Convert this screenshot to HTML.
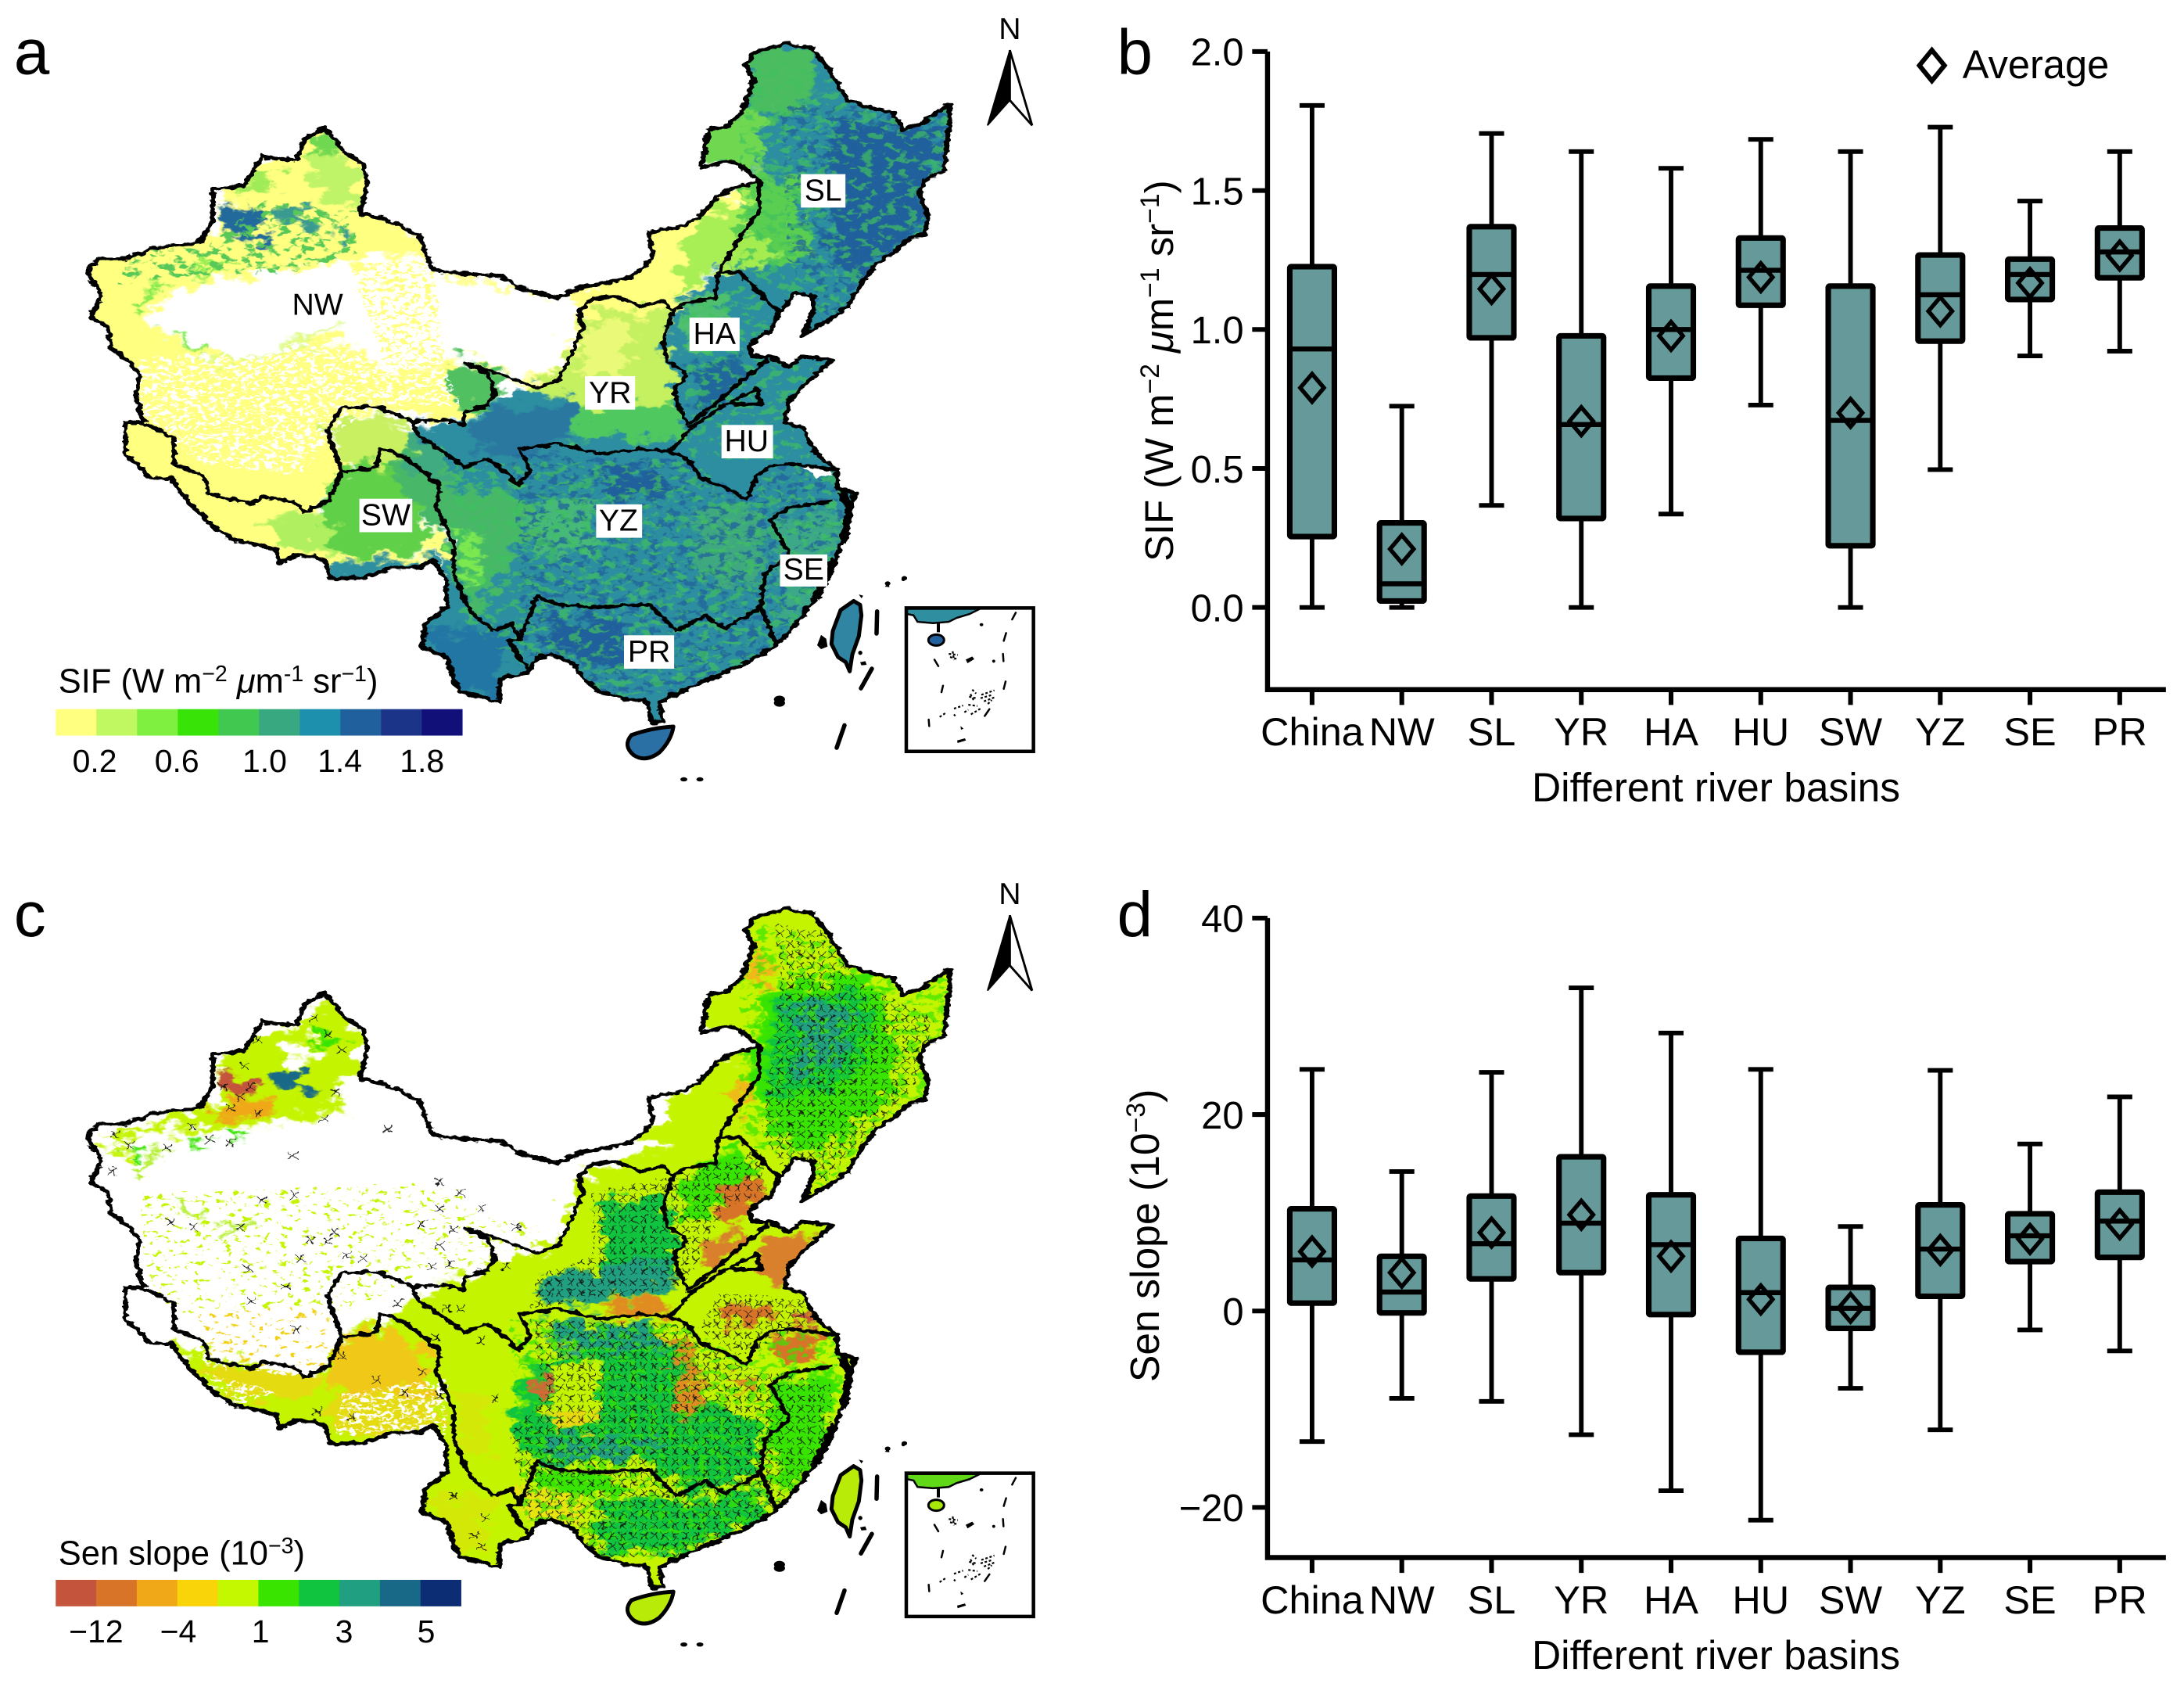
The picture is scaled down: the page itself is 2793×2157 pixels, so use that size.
<!DOCTYPE html>
<html lang="en">
<head>
<meta charset="utf-8">
<title>SIF and Sen slope across river basins of China</title>
<style>
html,body{margin:0;padding:0;background:#fff;}
svg{display:block;width:2793px;height:2157px;}
text{font-family:"Liberation Sans",Arial,sans-serif;fill:#000;}
.nss{vector-effect:non-scaling-stroke;}
.lbl{font-size:22px;text-anchor:middle;}
</style>
</head>
<body>
<svg id="figure" xmlns="http://www.w3.org/2000/svg" viewBox="0 0 1568 1210.9" preserveAspectRatio="none">
<defs>
  <path id="china-path" d="M463 242L478 262L495 290L520 310L527 350L515 405L545 412L570 425L600 445L610 480L622 512L680 520L720 523L745 545L790 562L800 565L830 545L870 535L905 525L935 490L930 440L975 430L1005 408L1030 370L1060 352L1088 345L1060 310L1040 305L1005 318L1015 245L1040 240L1062 215L1072 180L1080 150L1068 125L1080 100L1125 82L1165 92L1185 125L1215 190L1250 205L1280 215L1295 245L1320 235L1345 210L1362 198L1358 260L1352 325L1325 340L1318 370L1330 410L1325 445L1305 450L1280 480L1255 500L1235 535L1215 580L1190 605L1150 635L1165 590L1165 560L1140 555L1118 590L1105 625L1075 650L1078 675L1105 675L1130 695L1150 675L1192 682L1165 715L1130 760L1125 800L1150 810L1170 860L1200 890L1200 925L1225 935L1215 980L1205 1030L1190 1090L1170 1130L1145 1175L1115 1220L1070 1255L1030 1280L1000 1295L960 1320L945 1330L950 1365L935 1370L925 1325L900 1325L860 1310L840 1290L820 1255L790 1240L770 1245L755 1275L715 1285L715 1330L690 1320L660 1310L650 1285L640 1245L605 1225L610 1180L640 1150L640 1100L620 1060L600 1075L560 1075L520 1095L475 1095L465 1060L430 1050L400 1065L395 1040L360 1030L330 1020L300 990L270 950L245 905L215 905L180 860L180 800L205 800L195 750L200 710L185 685L160 660L155 620L130 600L145 560L125 515L140 490L180 490L220 470L285 460L305 420L305 360L350 350L375 295L425 305L435 265Z"/>
  <path id="basin-path" d="M180 800L205 800L250 830L250 880L290 900L300 935L360 955L375 940L420 950L435 970L470 950L490 895L540 885L545 850L560 855L585 870L630 920L625 960L650 1030L650 1090L675 1160L710 1195L735 1180L745 1210L770 1130L800 1145L850 1150L930 1145L970 1195L1010 1165L1040 1190L1090 1150L1112 1218M730 1215L745 1210M730 1215L755 1265M490 895L468 815L490 772L540 770L590 798L600 825L640 860L665 885L700 870L730 900L740 920L760 890L745 850L800 840L860 860L920 850L960 855L985 870L1005 905L1040 925L1070 945L1085 900L1110 880L1150 880L1195 890M590 798L640 795L665 805L665 780L695 770L710 745L700 710L668 688L720 710L770 735L800 720L820 670L835 620L830 590L850 565L880 560L920 580L950 570L965 590L950 640L955 680L985 710L965 740L985 805L1020 770L1100 680M965 590L980 575L1025 565L1030 515L1060 515L1085 550L1115 590L1105 625M1030 515L1060 450L1088 400L1088 345M960 855L990 810L1040 765L1090 765L1085 735L1050 760M1105 985L1130 960L1190 950M1105 985L1130 1050L1095 1090L1090 1150"/>
  <clipPath id="china-clip"><use href="#china-path"/></clipPath>
  <filter id="organic" x="-5%" y="-5%" width="110%" height="110%" color-interpolation-filters="sRGB">
    <feGaussianBlur in="SourceGraphic" stdDeviation="2.5 3" result="b"/>
    <feTurbulence type="fractalNoise" baseFrequency="0.03 0.04" numOctaves="4" seed="7" result="n"/>
    <feDisplacementMap in="b" in2="n" scale="70" xChannelSelector="R" yChannelSelector="G"/>
  </filter>
  <filter id="rough" x="-3%" y="-3%" width="106%" height="106%" color-interpolation-filters="sRGB">
    <feTurbulence type="fractalNoise" baseFrequency="0.09 0.11" numOctaves="2" seed="3" result="n"/>
    <feDisplacementMap in="SourceGraphic" in2="n" scale="11" xChannelSelector="R" yChannelSelector="G"/>
  </filter>
  <filter id="mottle-fine" x="0" y="0" width="100%" height="100%" color-interpolation-filters="sRGB">
    <feTurbulence type="fractalNoise" baseFrequency="0.07 0.09" numOctaves="3" seed="4"/>
    <feColorMatrix values="0 0 0 0 0 0 0 0 0 0 0 0 0 0 0 9 0 0 0 -4.7"/>
    <feComposite in="SourceGraphic" operator="in"/>
  </filter>
  <filter id="mottle-green" x="0" y="0" width="100%" height="100%" color-interpolation-filters="sRGB">
    <feTurbulence type="fractalNoise" baseFrequency="0.06 0.08" numOctaves="3" seed="21"/>
    <feColorMatrix values="0 0 0 0 0 0 0 0 0 0 0 0 0 0 0 9 0 0 0 -4.8"/>
    <feComposite in="SourceGraphic" operator="in"/>
  </filter>
  <filter id="mottle-speck" x="0" y="0" width="100%" height="100%" color-interpolation-filters="sRGB">
    <feTurbulence type="fractalNoise" baseFrequency="0.11 0.15" numOctaves="3" seed="9"/>
    <feColorMatrix values="0 0 0 0 0 0 0 0 0 0 0 0 0 0 0 11 0 0 0 -5.6"/>
    <feComposite in="SourceGraphic" operator="in"/>
  </filter>
  <filter id="mottle-sparse" x="0" y="0" width="100%" height="100%" color-interpolation-filters="sRGB">
    <feTurbulence type="fractalNoise" baseFrequency="0.09 0.12" numOctaves="3" seed="15"/>
    <feColorMatrix values="0 0 0 0 0 0 0 0 0 0 0 0 0 0 0 12 0 0 0 -7.6"/>
    <feComposite in="SourceGraphic" operator="in"/>
  </filter>
  <pattern id="x-hatch" width="15" height="20" patternUnits="userSpaceOnUse">
    <path d="M2.5 3L12.5 17M12.5 3L2.5 17" stroke="#111" stroke-width="1.15" fill="none"/>
  </pattern>
  <g id="map-lines">
    <use href="#china-path" class="nss" fill="none" stroke="#000" stroke-width="7" stroke-linejoin="round"/>
    <use href="#basin-path" class="nss" fill="none" stroke="#000" stroke-width="6.5" stroke-linejoin="round" stroke-linecap="round"/>
    <path class="nss" d="M1205 930L1218 960L1208 1030M1195 1060L1182 1100L1168 1135" fill="none" stroke="#000" stroke-width="10" stroke-linejoin="round"/>
  </g>
  <g id="map-dots">
    <path d="M1110 1328a8 7 0 1 0 14 0a8 7 0 1 0-14 0M975 1476a5 4 0 1 0 10 0a5 4 0 1 0-10 0M998 1476a5 4 0 1 0 10 0a5 4 0 1 0-10 0M1268 1105a4 4 0 1 0 8 0a4 4 0 1 0-8 0M1292 1095a4 4 0 1 0 8 0a4 4 0 1 0-8 0" fill="#000"/>
  </g>
  <g id="island-lines">
    <path class="nss" d="M365 245L363 330M345 465L303 540M240 682L210 768" stroke="#000" stroke-width="5.5" stroke-linecap="round" fill="none"/>
    <path d="M135 375L150 335L170 350L175 380L150 390ZM300 396a8 8 0 1 0 1 0ZM300 440L320 436L325 450L305 452ZM295 180L312 185L305 195ZM395 150L410 130L412 152ZM465 115a7 7 0 1 0 1 0ZM705 430l25-12l8 10l-26 16ZM812 430a6 6 0 1 0 1 0ZM765 290a7 6 0 1 0 1 0ZM672 740l30-8l4 8l-32 10ZM685 685l12 10l-10 4Z" fill="#000"/>
    <rect class="nss" x="477" y="232" width="488" height="550" fill="none" stroke="#000" stroke-width="4.5"/>
    <path class="nss" d="M640 408L675 412M645 420L672 428M655 398L660 432M730 545L745 560M718 572L745 578M735 585L722 560M765 565L815 548M762 578L808 565M775 590L815 575M790 600L805 585M660 618L695 606M715 603L750 608M700 632L715 622M725 640L765 616M605 650L632 632M660 640L665 646" stroke="#000" stroke-width="2.2" stroke-dasharray="3 2.5" fill="none"/>
    <path class="nss" d="M585 430L600 455M618 530L612 555M563 660L565 685M860 328L851 358M848 408L850 436M858 514L851 542M897 250L883 276M796 620L778 646" stroke="#000" stroke-width="2.5" stroke-linecap="round" fill="none"/>
  </g>
</defs>

<rect width="1568" height="1211" fill="#fff"/>

<!-- PANEL A -->
<text x="10" y="53" font-size="46">a</text>
<g transform="scale(.501 .379)">
<g filter="url(#rough)">
  <g clip-path="url(#china-clip)">
    <use href="#china-path" fill="#fff"/>
    <g filter="url(#organic)">
      <path fill="#2c8ea0" d="M1000 40H1440V1540H560L570 1180L640 1100L620 1050L640 1000L620 920L600 860L590 810L660 800L700 770L760 735L810 720L850 600L960 590L1030 520L1060 440L1090 340L1000 320Z"/>
      <path fill="#ffff80" d="M80 450L300 440L340 320L463 210L550 310L540 410L630 470L640 510L800 555L900 520L925 480L920 430L1090 335L1060 450L1030 510L965 590L835 600L820 670L770 730L670 690L690 770L640 800L540 770L480 790L470 830L500 890L440 970L520 1040L610 1050L640 1090L560 1090L520 1120L460 1120L280 1020L150 880L80 600Z"/>
      <path fill="#48b868" d="M530 850L640 840L660 1000L620 1000Z"/>
      <path fill="#48b868" d="M625 920L740 930L765 1000L720 1080L680 1170L650 1080Z"/>
      <path fill="#7ce850" d="M650 1010L695 1030L690 1080L670 1120Z"/>
      <path fill="#ffff80" d="M610 990L640 1020L650 1060L610 1050Z"/>
      <path fill="#46b878" d="M760 950L840 940L850 1040L770 1060Z"/>
      <path fill="#20609c" d="M860 880L950 890L950 950L880 950ZM780 1170L890 1170L900 1260L800 1240Z"/>
      <path fill="#3fa880" d="M1000 960L1090 960L1090 1110L1000 1100Z"/>
      <path fill="#4cbc60" d="M1065 90L1175 90L1160 210L1075 230Z"/>
      <path fill="#5ace50" d="M1060 340L1150 340L1170 490L1050 510Z"/>
      <path fill="#a4ec50" d="M1050 450L1110 470L1100 500L1040 510Z"/>
      <path fill="#20609c" d="M1190 230L1350 240L1340 340L1310 450L1230 530L1190 500Z"/>
      <path fill="#70d850" d="M995 230L1090 210L1090 340L1040 310L995 330Z"/>
      <path fill="#50c070" d="M975 575L1040 560L1040 640L985 660Z"/>
      <path fill="#20689c" d="M1000 690L1070 680L1050 770L1000 790Z"/>
      <path fill="#c5f060" d="M840 590L960 590L960 700L975 780L840 780L770 730L820 670Z"/>
      <path fill="#eafa78" d="M840 610L900 610L890 730L830 700Z"/>
      <path fill="#50c860" d="M830 770L975 760L985 830L820 830Z"/>
      <path fill="#2a78a0" d="M680 780L830 770L810 840L750 870L680 850Z"/>
      <path fill="#a8ee55" d="M990 430L1088 350L1060 450L1030 515L970 560Z"/>
      <path fill="#60d048" d="M480 900L545 870L600 960L610 1040L500 1060L450 980Z"/>
      <path fill="#2e8fa0" d="M480 1065L620 1060L620 1110L470 1120Z"/>
      <path fill="#c8f060" d="M470 790L560 780L600 850L540 880L490 880Z"/>
      <path fill="#40aa80" d="M580 820L640 850L630 930L590 880Z"/>
      <path fill="#b0f060" d="M370 985L450 965L490 1050L400 1030Z"/>
      <path fill="#2276a4" d="M600 1190L725 1190L725 1340L650 1310Z"/>
      <path fill="#3ca888" d="M1110 980L1210 960L1190 1100L1120 1200Z"/>
      <path fill="#70d850" d="M445 250L475 245L490 285L465 300L445 285Z"/>
      <path fill="#c0f468" d="M440 290L510 300L515 390L455 380Z"/>
      <path fill="#a0ec58" d="M355 320L400 310L385 360L350 360Z"/>
      <path fill="#226a9c" d="M315 395L365 385L385 465L315 445Z"/>
      <path fill="#3a9a90" d="M395 385L440 395L450 430L395 415ZM470 440L505 450L495 470Z"/>
      <path fill="#50c060" d="M650 670L720 710L710 770L665 790L645 730Z"/>
      <path fill="#fff" d="M215 590Q260 530 340 530L430 505L520 495L610 485L625 515L800 565L825 570L825 620L810 680L770 720L720 705L680 680L600 700L555 715L490 640L440 645L380 680L300 675L240 645Z"/>
      <path fill="none" stroke="#78e848" stroke-width="9" d="M200 595Q205 550 245 535M275 505L340 495M285 530L300 515M240 630L285 665"/>
      <path fill="none" stroke="#d8fa78" stroke-width="7" d="M300 680Q380 690 480 620"/>
    </g>
    <g filter="url(#mottle-green)">
      <path fill="#58c858" d="M180 480L300 460L380 380L510 400L510 480L400 520L280 520L170 540Z"/>
    </g>
    <g filter="url(#mottle-speck)">
      <path fill="#fff" d="M195 680L500 640L640 700L660 770L540 770L470 830L430 900L290 880L200 780Z"/>
    </g>
    <g filter="url(#mottle-speck)">
      <path fill="#ffff80" d="M500 500L620 490L640 700L560 715Z"/>
    </g>
    <g filter="url(#mottle-fine)" opacity=".75">
      <path fill="#20609c" d="M735 860L985 870L1070 945L1110 880L1200 890L1215 1000L1120 1220L1000 1310L850 1320L750 1270ZM1120 200L1360 200L1340 450L1240 540L1180 610L1130 500Z"/>
    </g>
    <g filter="url(#mottle-green)" opacity=".7">
      <path fill="#40c060" d="M640 880L985 870L1070 945L1110 880L1200 890L1215 1000L1120 1220L1000 1310L850 1320L750 1270L660 1170ZM1060 100L1360 200L1340 450L1240 540L1180 610L1060 500ZM975 590L1080 530L1110 620L1080 680L1190 690L1130 800L1170 870L990 870Z"/>
    </g>
    <path fill="#fff" d="M1150 882L1185 885L1195 900L1170 905Z"/>
  </g>
  <use href="#map-lines"/>
</g>
<use href="#map-dots"/>
</g>
<g transform="translate(561.4 393) scale(.18713)">
  <path class="nss" d="M275 205L300 220L305 260L295 340L270 410L260 475L245 440L215 420L190 370L195 320L225 240Z" fill="#2f85a2" stroke="#000" stroke-width="5" stroke-linejoin="round"/>
  <path class="nss" d="M480 235H760L720 255L670 270L640 285L580 290L520 285L505 260L480 255Z" fill="#2f8ea0" stroke="#000" stroke-width="2.5" stroke-linejoin="round"/>
  <path class="nss" d="M600 290V325" stroke="#000" stroke-width="4"/>
  <ellipse class="nss" cx="592" cy="355" rx="30" ry="21" fill="#20609c" stroke="#000" stroke-width="3"/>
  <use href="#island-lines"/>
</g>
<path class="nss" transform="scale(.501 .379)" d="M905 1392Q935 1378 965 1376Q962 1402 945 1425Q925 1445 908 1430Q892 1412 905 1392Z" fill="#2a70a4" stroke="#000" stroke-width="5" stroke-linejoin="round"/>
<g>
  <text x="725" y="28" font-size="22" text-anchor="middle">N</text>
  <path d="M725 36L709 90L725 72Z" fill="#000" stroke="#000" stroke-width="1"/>
  <path d="M725 36L741 90L725 72Z" fill="#fff" stroke="#000" stroke-width="1.6"/>
</g>
<g>
  <text class="lbl" x="228" y="226">NW</text>
  <g><rect x="575" y="125" width="32" height="24" fill="#fff"/><text class="lbl" x="591" y="144">SL</text></g>
  <g><rect x="495" y="228" width="36" height="24" fill="#fff"/><text class="lbl" x="513" y="247">HA</text></g>
  <g><rect x="420" y="270" width="36" height="24" fill="#fff"/><text class="lbl" x="438" y="289">YR</text></g>
  <g><rect x="518" y="305" width="37" height="24" fill="#fff"/><text class="lbl" x="536" y="324">HU</text></g>
  <g><rect x="258" y="358" width="38" height="24" fill="#fff"/><text class="lbl" x="277" y="377">SW</text></g>
  <g><rect x="428" y="362" width="33" height="24" fill="#fff"/><text class="lbl" x="444" y="381">YZ</text></g>
  <g><rect x="560" y="398" width="34" height="23" fill="#fff"/><text class="lbl" x="577" y="416">SE</text></g>
  <g><rect x="448" y="456" width="36" height="24" fill="#fff"/><text class="lbl" x="466" y="475">PR</text></g>
</g>
<g>
  <text x="42" y="497" font-size="24.4">SIF (W m<tspan dy="-8" font-size="16">−2</tspan><tspan dy="8"> </tspan><tspan font-style="italic">μ</tspan>m<tspan dy="-8" font-size="16">-1</tspan><tspan dy="8"> sr</tspan><tspan dy="-8" font-size="16">−1</tspan><tspan dy="8">)</tspan></text>
  <rect x="40" y="509" width="29.3" height="19" fill="#ffff80"/>
  <rect x="69.2" y="509" width="29.3" height="19" fill="#bff860"/>
  <rect x="98.4" y="509" width="29.3" height="19" fill="#80f040"/>
  <rect x="127.6" y="509" width="29.3" height="19" fill="#38e408"/>
  <rect x="156.8" y="509" width="29.3" height="19" fill="#40c850"/>
  <rect x="186" y="509" width="29.3" height="19" fill="#38a880"/>
  <rect x="215.2" y="509" width="29.3" height="19" fill="#1c90ac"/>
  <rect x="244.4" y="509" width="29.3" height="19" fill="#20609c"/>
  <rect x="273.6" y="509" width="29.3" height="19" fill="#1c3488"/>
  <rect x="302.8" y="509" width="29.3" height="19" fill="#101078"/>
  <g font-size="23" text-anchor="middle">
    <text x="68" y="554">0.2</text><text x="127" y="554">0.6</text><text x="190" y="554">1.0</text><text x="244" y="554">1.4</text><text x="303" y="554">1.8</text>
  </g>
</g>

<!-- PANEL C -->
<text x="10" y="672" font-size="46">c</text>
<g transform="translate(0 621) scale(.501 .379)">
<g filter="url(#rough)">
  <g clip-path="url(#china-clip)">
    <use href="#china-path" fill="#fff"/>
    <g filter="url(#organic)">
      <path fill="#c4f400" d="M925 510L975 420L1050 345L990 320L990 220L1050 70L1125 50L1420 160L1420 500L1270 1000L1120 1320L950 1480L880 1460L630 1360L570 1200L620 1110L460 1110L270 970L250 900L420 965L470 950L490 900L510 880L560 860L590 830L640 790L690 760L770 730L800 710L815 660L825 590L900 560L950 530Z"/>
      <path fill="#f0c818" d="M490 900L560 870L610 930L620 1000L540 1000L470 1000Z"/>
      <path fill="#e4dc10" d="M480 1000L620 1000L640 1060L520 1085L470 1060ZM290 950L460 960L450 1010L340 1010Z"/>
      <path fill="#d4e808" d="M650 1000L700 1010L700 1130L660 1110ZM610 1190L700 1190L700 1310L650 1300Z"/>
      <path fill="#38e400" d="M1095 240L1240 200L1290 330L1270 450L1180 540L1100 510L1080 400Z"/>
      <path fill="#10c440" d="M1110 250L1240 240L1240 380L1150 450L1100 420Z"/>
      <path fill="#20a080" d="M1135 255L1215 255L1210 385L1140 400Z"/>
      <path fill="#10c440" d="M860 640L960 620L975 780L870 790Z"/>
      <path fill="#20a080" d="M780 780L960 740L970 800L860 830L780 830Z"/>
      <path fill="#20a080" d="M775 860L950 870L950 920L800 920Z"/>
      <path fill="#10c440" d="M760 930L960 910L1000 1000L1080 1060L1090 1150L990 1190L920 1130L780 1130L730 1080Z"/>
      <path fill="#20a080" d="M780 1085L950 1085L910 1130L780 1120Z"/>
      <path fill="#10c440" d="M860 1200L1000 1200L1100 1190L1090 1240L980 1300L860 1300Z"/>
      <path fill="#38e400" d="M1110 980L1200 960L1180 1120L1120 1200L1095 1090Z"/>
      <path fill="#38e400" d="M775 1140L900 1160L880 1190L770 1190ZM975 600L1060 530L1090 600L1020 640L980 680Z"/>
      <path fill="#d87428" d="M1020 640L1080 580L1100 620L1060 670L1040 690Z"/>
      <path fill="#d8802c" d="M1010 720L1070 680L1050 750L1010 770ZM1090 710L1170 700L1130 770L1110 790L1090 780Z"/>
      <path fill="#d87428" d="M1030 840L1090 830L1110 860L1040 880ZM1120 880L1180 890L1170 930L1110 940Z"/>
      <path fill="#c4543c" d="M1140 830L1165 850L1170 880L1145 870Z"/>
      <path fill="#e08c20" d="M955 890L985 900L1010 1010L990 1045L960 1030L975 960ZM1050 970L1080 980L1060 1005ZM850 840L940 810L960 850L880 855Z"/>
      <path fill="#e8e410" d="M730 1190L830 1180L850 1270L770 1240Z"/>
      <path fill="#f0b818" d="M1080 150L1110 200L1090 240L1070 200ZM1050 430L1085 400L1060 480Z"/>
      <path fill="#c4f400" d="M355 320L430 300L470 250L520 320L510 380L470 450L500 470L400 490L300 500L200 510L160 530L190 560L170 560L150 510L305 460L315 370Z"/>
      <path fill="#f0a818" d="M315 450L385 440L385 480L310 480Z"/>
      <path fill="#c4543c" d="M315 395L335 395L375 430L350 445L310 420Z"/>
      <path fill="#186888" d="M380 390L420 385L450 425L400 420Z"/>
      <path fill="#38e400" d="M455 320L490 325L480 350L455 345ZM275 510L300 530L275 540ZM320 505L350 515L330 530ZM180 535L205 545L185 560Z"/>
      <path fill="#fff" d="M400 340L450 330L450 380L410 380Z"/>
      <path fill="none" stroke="#a8ec10" stroke-width="8" d="M200 595Q205 550 245 535M240 640L285 665M310 690L370 680"/>
    </g>
    <g filter="url(#mottle-fine)" opacity=".7">
      <path fill="#38e400" d="M730 860L985 870L1070 945L1110 880L1200 890L1215 1000L1120 1220L1000 1310L850 1320L750 1270ZM1060 100L1360 200L1340 450L1240 540L1180 610L1060 500Z"/>
    </g>
    <g filter="url(#organic)">
      <path fill="#c4f400" d="M785 950L860 935L860 1040L790 1055Z"/>
      <path fill="#d06a34" d="M762 970L785 975L780 1012L760 1005Z"/>
      <path fill="#e8d810" d="M790 1045L850 1035L840 1070L795 1075Z"/>
    </g>
    <g filter="url(#mottle-speck)">
      <path fill="#fff" d="M470 780L560 780L570 840L500 880L470 830ZM250 880L470 950L440 970L300 950ZM490 1000L640 970L640 1080L480 1080ZM290 960L400 1000L340 1020Z"/>
    </g>
    <g filter="url(#mottle-sparse)">
      <path fill="#c4f400" d="M200 620L660 600L660 700L600 780L440 880L280 870L210 800Z"/>
      <path fill="#f0d010" d="M280 850L470 830L470 950L300 950Z"/>
      <path fill="#c4f400" d="M600 610L780 690L760 730L690 760L620 780Z"/>
    </g>
    <path fill="url(#x-hatch)" d="M1110 110L1190 130L1230 220L1290 260L1340 290L1310 420L1250 500L1180 600L1120 570L1090 500L1110 330L1120 200ZM850 620L960 590L1090 540L1100 620L1040 650L980 800L760 840L770 780L850 740ZM760 860L980 870L1060 950L1110 960L1190 980L1190 1120L1110 1230L1000 1310L860 1310L760 1240L730 1080L780 1000ZM1030 810L1150 820L1160 870L1060 930L1000 880Z"/>
    <path fill="none" stroke="#111" stroke-width="1.3" d="M165 510m-6-7l12 14m0-14l-12 14M185 530m-6-7l12 14m0-14l-12 14M240 535m-6-7l12 14m0-14l-12 14M160 580m-6-7l12 14m0-14l-12 14M275 495m-6-7l12 14m0-14l-12 14M300 520m-6-7l12 14m0-14l-12 14M330 525m-6-7l12 14m0-14l-12 14M370 470m-6-7l12 14m0-14l-12 14M345 440m-6-7l12 14m0-14l-12 14M320 420m-6-7l12 14m0-14l-12 14M360 420m-6-7l12 14m0-14l-12 14M330 460m-6-7l12 14m0-14l-12 14M480 430m-6-7l12 14m0-14l-12 14M465 480m-6-7l12 14m0-14l-12 14M555 500m-6-7l12 14m0-14l-12 14M420 550m-6-7l12 14m0-14l-12 14M375 635m-6-7l12 14m0-14l-12 14M422 625m-6-7l12 14m0-14l-12 14M345 685m-6-7l12 14m0-14l-12 14M245 675m-6-7l12 14m0-14l-12 14M278 685m-6-7l12 14m0-14l-12 14M630 600m-6-7l12 14m0-14l-12 14M660 620m-6-7l12 14m0-14l-12 14M690 650m-6-7l12 14m0-14l-12 14M630 650m-6-7l12 14m0-14l-12 14M605 680m-6-7l12 14m0-14l-12 14M650 690m-6-7l12 14m0-14l-12 14M630 720m-6-7l12 14m0-14l-12 14M740 685m-6-7l12 14m0-14l-12 14M480 695m-6-7l12 14m0-14l-12 14M445 710m-6-7l12 14m0-14l-12 14M470 712m-6-7l12 14m0-14l-12 14M430 745m-6-7l12 14m0-14l-12 14M497 738m-6-7l12 14m0-14l-12 14M520 745m-6-7l12 14m0-14l-12 14M355 765m-6-7l12 14m0-14l-12 14M410 798m-6-7l12 14m0-14l-12 14M360 825m-6-7l12 14m0-14l-12 14M425 878m-6-7l12 14m0-14l-12 14M490 930m-6-7l12 14m0-14l-12 14M540 975m-6-7l12 14m0-14l-12 14M580 1000m-6-7l12 14m0-14l-12 14M605 960m-6-7l12 14m0-14l-12 14M630 1005m-6-7l12 14m0-14l-12 14M710 1010m-6-7l12 14m0-14l-12 14M505 1045m-6-7l12 14m0-14l-12 14M455 1035m-6-7l12 14m0-14l-12 14M650 1195m-6-7l12 14m0-14l-12 14M610 1235m-6-7l12 14m0-14l-12 14M695 1235m-6-7l12 14m0-14l-12 14M680 1270m-6-7l12 14m0-14l-12 14M690 1290m-6-7l12 14m0-14l-12 14M470 320m-6-7l12 14m0-14l-12 14M490 350m-6-7l12 14m0-14l-12 14M450 290m-6-7l12 14m0-14l-12 14M370 330m-6-7l12 14m0-14l-12 14M350 380m-6-7l12 14m0-14l-12 14M620 760m-6-7l12 14m0-14l-12 14M645 755m-6-7l12 14m0-14l-12 14M690 770m-6-7l12 14m0-14l-12 14M725 760m-6-7l12 14m0-14l-12 14M690 900m-6-7l12 14m0-14l-12 14M625 895m-6-7l12 14m0-14l-12 14M570 830m-6-7l12 14m0-14l-12 14M640 840m-6-7l12 14m0-14l-12 14M660 840m-6-7l12 14m0-14l-12 14"/>
  </g>
  <use href="#map-lines"/>
</g>
<use href="#map-dots"/>
</g>
<g transform="translate(561.4 1014) scale(.18713)">
  <path class="nss" d="M275 205L300 220L305 260L295 340L270 410L260 475L245 440L215 420L190 370L195 320L225 240Z" fill="#b8ec08" stroke="#000" stroke-width="5" stroke-linejoin="round"/>
  <path class="nss" d="M480 235H760L720 255L670 270L640 285L580 290L520 285L505 260L480 255Z" fill="#60d818" stroke="#000" stroke-width="2.5" stroke-linejoin="round"/>
  <path class="nss" d="M600 290V325" stroke="#000" stroke-width="4"/>
  <ellipse class="nss" cx="592" cy="355" rx="30" ry="21" fill="#a8e808" stroke="#000" stroke-width="3"/>
  <use href="#island-lines"/>
</g>
<path class="nss" transform="translate(0 621) scale(.501 .379)" d="M905 1392Q935 1378 965 1376Q962 1402 945 1425Q925 1445 908 1430Q892 1412 905 1392Z" fill="#b8ec08" stroke="#000" stroke-width="5" stroke-linejoin="round"/>
<g transform="translate(0 621)">
  <text x="725" y="28" font-size="22" text-anchor="middle">N</text>
  <path d="M725 36L709 90L725 72Z" fill="#000" stroke="#000" stroke-width="1"/>
  <path d="M725 36L741 90L725 72Z" fill="#fff" stroke="#000" stroke-width="1.6"/>
</g>
<g>
  <text x="42" y="1123" font-size="24.4">Sen slope (10<tspan dy="-8" font-size="16">−3</tspan><tspan dy="8">)</tspan></text>
  <rect x="40" y="1134" width="29.3" height="19" fill="#c4543c"/>
  <rect x="69.1" y="1134" width="29.3" height="19" fill="#d87428"/>
  <rect x="98.2" y="1134" width="29.3" height="19" fill="#f0a818"/>
  <rect x="127.3" y="1134" width="29.3" height="19" fill="#f8d408"/>
  <rect x="156.4" y="1134" width="29.3" height="19" fill="#c4f800"/>
  <rect x="185.5" y="1134" width="29.3" height="19" fill="#38e400"/>
  <rect x="214.6" y="1134" width="29.3" height="19" fill="#10c440"/>
  <rect x="243.7" y="1134" width="29.3" height="19" fill="#20a080"/>
  <rect x="272.8" y="1134" width="29.3" height="19" fill="#186888"/>
  <rect x="301.9" y="1134" width="29.3" height="19" fill="#0c2c74"/>
  <g font-size="23" text-anchor="middle">
    <text x="69" y="1179">−12</text><text x="128" y="1179">−4</text><text x="187" y="1179">1</text><text x="247" y="1179">3</text><text x="306" y="1179">5</text>
  </g>
</g>

<!-- PANELS B, D (drawn by script) -->
<text x="802" y="53" font-size="46">b</text>
<text x="802" y="672" font-size="46">d</text>
<g id="chart-b"></g>
<g id="chart-d"></g>
<text transform="translate(842 403) rotate(-90)" font-size="28.5">SIF (W m<tspan dy="-10" font-size="19">−2</tspan><tspan dy="10"> </tspan><tspan font-style="italic">μ</tspan>m<tspan dy="-10" font-size="19">−1</tspan><tspan dy="10"> sr</tspan><tspan dy="-10" font-size="19">−1</tspan><tspan dy="10">)</tspan></text>
<text transform="translate(832 992) rotate(-90)" font-size="29">Sen slope (10<tspan dy="-10" font-size="19">−3</tspan><tspan dy="10">)</tspan></text>
<g>
  <path d="M1387 36L1396 47L1387 58L1378 47Z" fill="none" stroke="#000" stroke-width="3.4"/>
  <text x="1409" y="56" font-size="28.4">Average</text>
</g>
</svg>
<script>
const categories = ['China','NW','SL','YR','HA','HU','SW','YZ','SE','PR'];

const sifHigh   = [1.806,0.724,1.705,1.640,1.580,1.684,1.640,1.728,1.462,1.640];
const sifQ3     = [1.226,0.304,1.370,0.977,1.156,1.329,1.156,1.268,1.253,1.365];
const sifMedian = [0.930,0.085,1.198,0.658,1.000,1.213,0.673,1.125,1.198,1.279];
const sifQ1     = [0.255,0.023,0.970,0.320,0.825,1.087,0.222,0.958,1.108,1.186];
const sifLow    = [0.000,0.000,0.367,0.000,0.336,0.728,0.000,0.496,0.905,0.922];
const sifMean   = [0.790,0.210,1.146,0.670,0.977,1.188,0.700,1.066,1.167,1.266];
const sifTicks  = [0,0.5,1,1.5,2];

const slopeHigh   = [24.6,14.2,24.3,32.9,28.3,24.6,8.6,24.5,17.0,21.8];
const slopeQ3     = [10.4,5.57,11.7,15.7,11.83,7.39,2.4,10.8,9.9,12.1];
const slopeMedian = [5.2,1.93,6.85,8.94,6.75,1.87,0.27,6.3,7.66,9.15];
const slopeQ1     = [0.8,-0.2,3.27,3.9,-0.37,-4.2,-1.77,1.5,5.03,5.46];
const slopeLow    = [-13.3,-8.9,-9.2,-12.6,-18.3,-21.3,-7.87,-12.1,-1.93,-4.07];
const slopeMean   = [6.05,3.9,7.98,9.8,5.57,1.18,0.32,6.2,7.33,8.83];
const slopeTicks  = [-20,0,20,40];

const SVGNS = 'http://www.w3.org/2000/svg';
function xPos(i){ return 942 + i * 64.43; }
function ySif(v){ return 436 - v * 199.5; }
function ySlope(v){ return 941 - v * 7.05; }

function svgEl(tag, parent, attrs){
  const el = document.createElementNS(SVGNS, tag);
  for (const k in attrs) el.setAttribute(k, attrs[k]);
  parent.appendChild(el);
  return el;
}

function drawPanel(root, y, geom, series, ticks, fmt){
  const axisY = svgEl('path', root, {d:'M910 '+geom.top+'V'+geom.bottom+'H1555', fill:'none', stroke:'#000', 'stroke-width':3.6});
  
  
  ticks.forEach(function(t){
    const tick = svgEl('line', root, {x1:899, x2:910, y1:y(t), y2:y(t), stroke:'#000', 'stroke-width':3.4});
    
    
    const label = svgEl('text', root, {x:893, y:y(t)+10, 'font-size':27.5, 'text-anchor':'end'});
    
    
    label.textContent = fmt(t);
  });
  categories.forEach(function(cat, i){
    const x = xPos(i);
    const tick = svgEl('line', root, {x1:x, x2:x, y1:geom.bottom, y2:geom.bottom+11, stroke:'#000', 'stroke-width':3.4});
    
    
    const label = svgEl('text', root, {x:x, y:geom.bottom+40, 'font-size':28.3, 'text-anchor':'middle'});
    
    
    label.textContent = cat;
    const whisker = svgEl('path', root, {
      d:'M'+(x-9)+' '+y(series.high[i])+'H'+(x+9)+'M'+x+' '+y(series.high[i])+'V'+y(series.low[i])+'M'+(x-9)+' '+y(series.low[i])+'H'+(x+9),
      fill:'none', stroke:'#000', 'stroke-width':3.3});
    
    
    const box = svgEl('rect', root, {x:x-16, y:y(series.q3[i]), width:32, height:y(series.q1[i])-y(series.q3[i]), fill:'#669999', stroke:'#000', 'stroke-width':4, rx:1});
    
    
    const median = svgEl('line', root, {x1:x-16, x2:x+16, y1:y(series.median[i]), y2:y(series.median[i]), stroke:'#000', 'stroke-width':3.6});
    
    
    const ym = y(series.mean[i]);
    const mean = svgEl('path', root, {d:'M'+x+' '+(ym-10)+'L'+(x+8.5)+' '+ym+'L'+x+' '+(ym+10)+'L'+(x-8.5)+' '+ym+'Z', fill:'none', stroke:'#000', 'stroke-width':3});
    
    
  });
  const title = svgEl('text', root, {x:1232, y:geom.bottom+80, 'font-size':28.9, 'text-anchor':'middle'});
  
  
  title.textContent = 'Different river basins';
}

drawPanel(document.getElementById('chart-b'), ySif, {top:37, bottom:495},
  {high:sifHigh, q3:sifQ3, median:sifMedian, q1:sifQ1, low:sifLow, mean:sifMean},
  sifTicks, function(t){ return t.toFixed(1); });
drawPanel(document.getElementById('chart-d'), ySlope, {top:659, bottom:1118},
  {high:slopeHigh, q3:slopeQ3, median:slopeMedian, q1:slopeQ1, low:slopeLow, mean:slopeMean},
  slopeTicks, function(t){ return t < 0 ? '−' + Math.abs(t) : String(t); });
</script>
</body>
</html>
